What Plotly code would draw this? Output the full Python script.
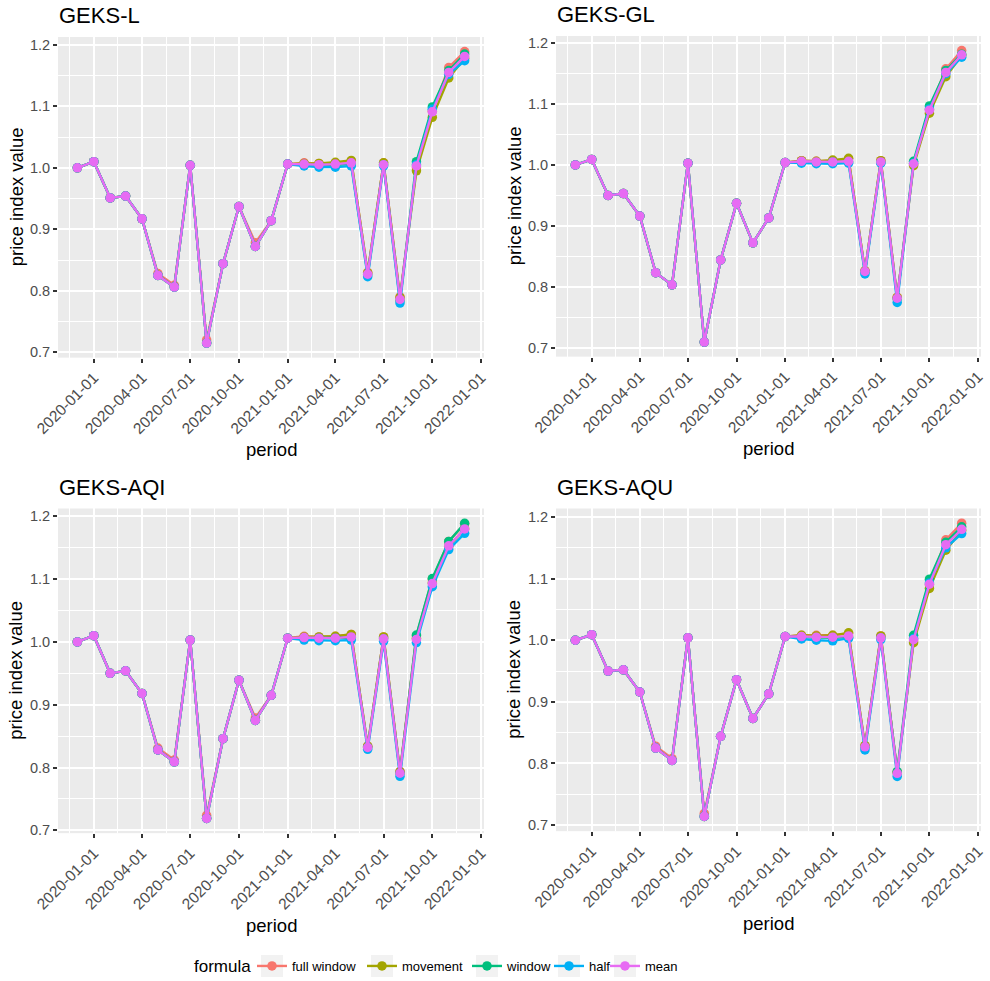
import plotly.graph_objects as go
from datetime import datetime

# Monthly periods shown in every panel
periods = [
    "2019-12-01", "2020-01-01", "2020-02-01", "2020-03-01", "2020-04-01",
    "2020-05-01", "2020-06-01", "2020-07-01", "2020-08-01", "2020-09-01",
    "2020-10-01", "2020-11-01", "2020-12-01", "2021-01-01", "2021-02-01",
    "2021-03-01", "2021-04-01", "2021-05-01", "2021-06-01", "2021-07-01",
    "2021-08-01", "2021-09-01", "2021-10-01", "2021-11-01", "2021-12-01",
]

x_ticks = [
    "2020-01-01", "2020-04-01", "2020-07-01", "2020-10-01", "2021-01-01",
    "2021-04-01", "2021-07-01", "2021-10-01", "2022-01-01",
]
y_ticks = [0.7, 0.8, 0.9, 1.0, 1.1, 1.2]

formulas = ["full window", "movement", "window", "half", "mean"]
colors = ["#F8766D", "#A3A500", "#00BF7D", "#00B0F6", "#E76BF3"]

panel_titles = ["GEKS-L", "GEKS-GL", "GEKS-AQI", "GEKS-AQU"]

# ---- GEKS-L ----
geks_l_full_window = [1.000, 1.010, 0.951, 0.954, 0.917, 0.828, 0.809, 1.004, 0.720, 0.844, 0.937, 0.878, 0.914,
                      1.006, 1.008, 1.007, 1.008, 1.011, 0.830, 1.008, 0.790, 1.000, 1.092, 1.163, 1.189]
geks_l_movement = [1.000, 1.010, 0.951, 0.954, 0.917, 0.825, 0.806, 1.004, 0.715, 0.844, 0.937, 0.872, 0.914,
                   1.006, 1.007, 1.007, 1.009, 1.012, 0.829, 1.008, 0.789, 0.995, 1.082, 1.146, 1.178]
geks_l_window = [1.000, 1.010, 0.951, 0.954, 0.917, 0.825, 0.806, 1.004, 0.715, 0.844, 0.937, 0.872, 0.914,
                 1.006, 1.005, 1.004, 1.005, 1.006, 0.826, 1.005, 0.784, 1.010, 1.099, 1.158, 1.185]
geks_l_half = [1.000, 1.010, 0.951, 0.954, 0.917, 0.825, 0.806, 1.004, 0.715, 0.844, 0.937, 0.872, 0.914,
               1.006, 1.003, 1.001, 1.001, 1.003, 0.823, 1.003, 0.780, 1.005, 1.095, 1.152, 1.174]
geks_l_mean = [1.000, 1.010, 0.951, 0.954, 0.917, 0.825, 0.806, 1.004, 0.715, 0.844, 0.937, 0.872, 0.914,
               1.006, 1.006, 1.005, 1.006, 1.008, 0.827, 1.005, 0.786, 1.003, 1.091, 1.155, 1.181]

# ---- GEKS-GL ----
geks_gl_full_window = [1.000, 1.009, 0.950, 0.953, 0.916, 0.823, 0.803, 1.003, 0.709, 0.844, 0.937, 0.872, 0.913,
                       1.004, 1.007, 1.006, 1.007, 1.010, 0.826, 1.007, 0.783, 1.001, 1.091, 1.158, 1.188]
geks_gl_movement = [1.000, 1.009, 0.950, 0.953, 0.916, 0.823, 0.803, 1.003, 0.709, 0.844, 0.937, 0.872, 0.913,
                    1.004, 1.007, 1.006, 1.008, 1.011, 0.826, 1.007, 0.782, 0.999, 1.085, 1.145, 1.180]
geks_gl_window = [1.000, 1.009, 0.950, 0.953, 0.916, 0.823, 0.803, 1.003, 0.709, 0.844, 0.937, 0.872, 0.913,
                  1.004, 1.005, 1.004, 1.005, 1.005, 0.824, 1.004, 0.780, 1.006, 1.097, 1.155, 1.182]
geks_gl_half = [1.000, 1.009, 0.950, 0.953, 0.916, 0.823, 0.803, 1.003, 0.709, 0.844, 0.937, 0.872, 0.913,
                1.004, 1.003, 1.002, 1.002, 1.003, 0.821, 1.003, 0.774, 1.003, 1.092, 1.150, 1.177]
geks_gl_mean = [1.000, 1.009, 0.950, 0.953, 0.916, 0.823, 0.803, 1.003, 0.709, 0.844, 0.937, 0.872, 0.913,
                1.004, 1.006, 1.005, 1.005, 1.006, 0.825, 1.005, 0.781, 1.002, 1.090, 1.152, 1.181]

# ---- GEKS-AQI ----
geks_aqi_full_window = [1.000, 1.010, 0.950, 0.954, 0.918, 0.831, 0.812, 1.003, 0.724, 0.846, 0.939, 0.879, 0.915,
                        1.006, 1.009, 1.008, 1.009, 1.012, 0.834, 1.008, 0.794, 1.010, 1.100, 1.160, 1.188]
geks_aqi_movement = [1.000, 1.010, 0.950, 0.954, 0.918, 0.828, 0.809, 1.003, 0.719, 0.846, 0.939, 0.875, 0.915,
                     1.006, 1.008, 1.008, 1.009, 1.012, 0.834, 1.008, 0.793, 1.006, 1.094, 1.152, 1.180]
geks_aqi_window = [1.000, 1.010, 0.950, 0.954, 0.918, 0.828, 0.809, 1.003, 0.719, 0.846, 0.939, 0.875, 0.915,
                   1.006, 1.006, 1.006, 1.006, 1.007, 0.832, 1.005, 0.791, 1.011, 1.101, 1.160, 1.189]
geks_aqi_half = [1.000, 1.010, 0.950, 0.954, 0.918, 0.828, 0.809, 1.003, 0.719, 0.846, 0.939, 0.875, 0.915,
                 1.006, 1.003, 1.002, 1.002, 1.003, 0.829, 1.001, 0.786, 0.999, 1.088, 1.147, 1.173]
geks_aqi_mean = [1.000, 1.010, 0.950, 0.954, 0.918, 0.828, 0.809, 1.003, 0.719, 0.846, 0.939, 0.875, 0.915,
                 1.006, 1.007, 1.006, 1.006, 1.008, 0.832, 1.005, 0.791, 1.004, 1.093, 1.153, 1.180]

# ---- GEKS-AQU ----
geks_aqu_full_window = [1.000, 1.009, 0.950, 0.952, 0.916, 0.828, 0.808, 1.004, 0.719, 0.844, 0.936, 0.873, 0.913,
                        1.006, 1.008, 1.008, 1.008, 1.011, 0.829, 1.007, 0.786, 0.999, 1.090, 1.163, 1.190]
geks_aqu_movement = [1.000, 1.009, 0.950, 0.952, 0.916, 0.825, 0.805, 1.004, 0.714, 0.844, 0.936, 0.873, 0.913,
                     1.006, 1.008, 1.007, 1.008, 1.012, 0.829, 1.007, 0.785, 0.996, 1.084, 1.146, 1.178]
geks_aqu_window = [1.000, 1.009, 0.950, 0.952, 0.916, 0.825, 0.805, 1.004, 0.714, 0.844, 0.936, 0.873, 0.913,
                   1.006, 1.005, 1.004, 1.004, 1.005, 0.826, 1.004, 0.787, 1.008, 1.099, 1.159, 1.184]
geks_aqu_half = [1.000, 1.009, 0.950, 0.952, 0.916, 0.825, 0.805, 1.004, 0.714, 0.844, 0.936, 0.873, 0.913,
                 1.006, 1.002, 1.000, 0.999, 1.003, 0.822, 1.001, 0.779, 1.003, 1.093, 1.150, 1.173]
geks_aqu_mean = [1.000, 1.009, 0.950, 0.952, 0.916, 0.825, 0.805, 1.004, 0.714, 0.844, 0.936, 0.873, 0.913,
                 1.006, 1.006, 1.005, 1.005, 1.007, 0.827, 1.004, 0.784, 1.001, 1.091, 1.155, 1.180]

panel_series = [
    [geks_l_full_window, geks_l_movement, geks_l_window, geks_l_half, geks_l_mean],
    [geks_gl_full_window, geks_gl_movement, geks_gl_window, geks_gl_half, geks_gl_mean],
    [geks_aqi_full_window, geks_aqi_movement, geks_aqi_window, geks_aqi_half, geks_aqi_mean],
    [geks_aqu_full_window, geks_aqu_movement, geks_aqu_window, geks_aqu_half, geks_aqu_mean],
]

# ---- page geometry (pixels) ----
W, H = 990, 981
FONT = "Liberation Sans, Arial, Helvetica, sans-serif"
TICK_GREY = "#4D4D4D"
PANEL_BG = "#EBEBEB"

# plot-panel boxes: (left, right, top, bottom) in px
boxes = [
    (58, 484, 37, 358),
    (556, 981, 36, 357),
    (58, 484, 509, 834),
    (556, 981, 509, 832),
]

# centre of each legend key, and the legend row centre
legend_key_x = [272, 382, 487, 569, 625]
LEGEND_Y = 967


def px_x(v):
    return v / W


def px_y(v):
    return 1 - v / H


def expand(lo, hi, frac=0.05):
    pad = (hi - lo) * frac
    return lo - pad, hi + pad


def to_dt(s):
    return datetime.strptime(s, "%Y-%m-%d")


# x range with 5% padding on the date span
d0, d1 = to_dt(periods[0]), to_dt(periods[-1])
span = d1 - d0
x_range = [(d0 - span * 0.05).strftime("%Y-%m-%d %H:%M"), (d1 + span * 0.05).strftime("%Y-%m-%d %H:%M")]

# minor grid lines half-way between the major date breaks
major_dt = [to_dt("2019-10-01")] + [to_dt(t) for t in x_ticks]
x_minor = [(a + (b - a) / 2).strftime("%Y-%m-%d %H:%M") for a, b in zip(major_dt[:-1], major_dt[1:])]

legend_ids = ["legend"] + [f"legend{i}" for i in range(2, len(formulas) + 1)]

fig = go.Figure()
annotations = []
shapes = []

for p, (title, series_list) in enumerate(zip(panel_titles, panel_series)):
    idx = "" if p == 0 else str(p + 1)
    xref, yref = f"x{idx}", f"y{idx}"
    for k, (name, color, vals) in enumerate(zip(formulas, colors, series_list)):
        fig.add_trace(go.Scatter(
            x=periods, y=vals, name=name, mode="lines+markers",
            line=dict(color=color, width=2.4),
            marker=dict(color=color, size=9.5),
            xaxis=xref, yaxis=yref,
            legend=legend_ids[k], legendgroup=name, showlegend=(p == 0),
        ))

    left, right, top, bottom = boxes[p]
    all_vals = [v for s in series_list for v in s]
    y_lo, y_hi = expand(min(all_vals), max(all_vals))

    fig.layout[f"xaxis{idx}"] = dict(
        domain=[px_x(left), px_x(right)], anchor=yref, type="date", automargin=False,
        range=x_range, tickmode="array", tickvals=x_ticks, ticktext=x_ticks,
        tickangle=-45, ticks="outside", ticklen=4, tickwidth=1.6, tickcolor="#333333",
        tickfont=dict(family=FONT, size=15.5, color=TICK_GREY),
        showgrid=True, gridcolor="white", gridwidth=1.6,
        minor=dict(tickvals=x_minor, showgrid=True, gridcolor="white", gridwidth=0.8, ticks=""),
        showline=False, zeroline=False, fixedrange=True,
    )
    fig.layout[f"yaxis{idx}"] = dict(
        domain=[px_y(bottom), px_y(top)], anchor=xref, automargin=False,
        range=[y_lo, y_hi], tickmode="array", tickvals=y_ticks,
        ticktext=[f"{v:.1f}" for v in y_ticks],
        ticks="outside", ticklen=4, tickwidth=1.6, tickcolor="#333333",
        tickfont=dict(family=FONT, size=14.5, color=TICK_GREY),
        showgrid=True, gridcolor="white", gridwidth=1.6,
        minor=dict(dtick=0.05, tick0=0.0, showgrid=True, gridcolor="white", gridwidth=0.8, ticks=""),
        showline=False, zeroline=False, fixedrange=True,
    )

    # panel title
    annotations.append(dict(
        text=title, xref="paper", yref="paper", x=px_x(left - 1), y=px_y(top - 21),
        xanchor="left", yanchor="middle", showarrow=False,
        font=dict(family=FONT, size=22, color="black"),
    ))
    # axis titles
    annotations.append(dict(
        text="period", xref="paper", yref="paper", x=px_x((left + right) / 2), y=px_y(bottom + 92),
        xanchor="center", yanchor="middle", showarrow=False,
        font=dict(family=FONT, size=18.5, color="black"),
    ))
    annotations.append(dict(
        text="price index value", xref="paper", yref="paper", x=px_x(left - 42), y=px_y((top + bottom) / 2),
        xanchor="center", yanchor="middle", showarrow=False, textangle=-90,
        font=dict(family=FONT, size=18.5, color="black"),
    ))

# legend title
annotations.append(dict(
    text="formula", xref="paper", yref="paper", x=px_x(192), y=px_y(LEGEND_Y),
    xanchor="left", yanchor="middle", showarrow=False,
    font=dict(family=FONT, size=17, color="black"),
))

legend_layout = {}
for k, kx in enumerate(legend_key_x):
    # each legend holds one entry; its symbol is centred 20 px right of the legend's left edge
    legend_layout[legend_ids[k]] = dict(
        orientation="h", x=px_x(kx - 20), xanchor="left", y=px_y(LEGEND_Y), yanchor="middle",
        font=dict(family=FONT, size=13, color="black"),
        bgcolor="rgba(0,0,0,0)", borderwidth=0, itemwidth=30,
    )
    # grey key background behind each legend symbol
    shapes.append(dict(
        type="rect", xref="paper", yref="paper",
        x0=px_x(kx - 11), x1=px_x(kx + 11), y0=px_y(LEGEND_Y + 11), y1=px_y(LEGEND_Y - 11),
        fillcolor="#F2F2F2", line=dict(width=0), layer="below",
    ))

fig.update_layout(
    width=W, height=H,
    margin=dict(l=0, r=0, t=0, b=0),
    paper_bgcolor="white",
    plot_bgcolor=PANEL_BG,
    annotations=annotations,
    shapes=shapes,
    showlegend=True,
    **legend_layout,
)

fig.write_html("out.html")
